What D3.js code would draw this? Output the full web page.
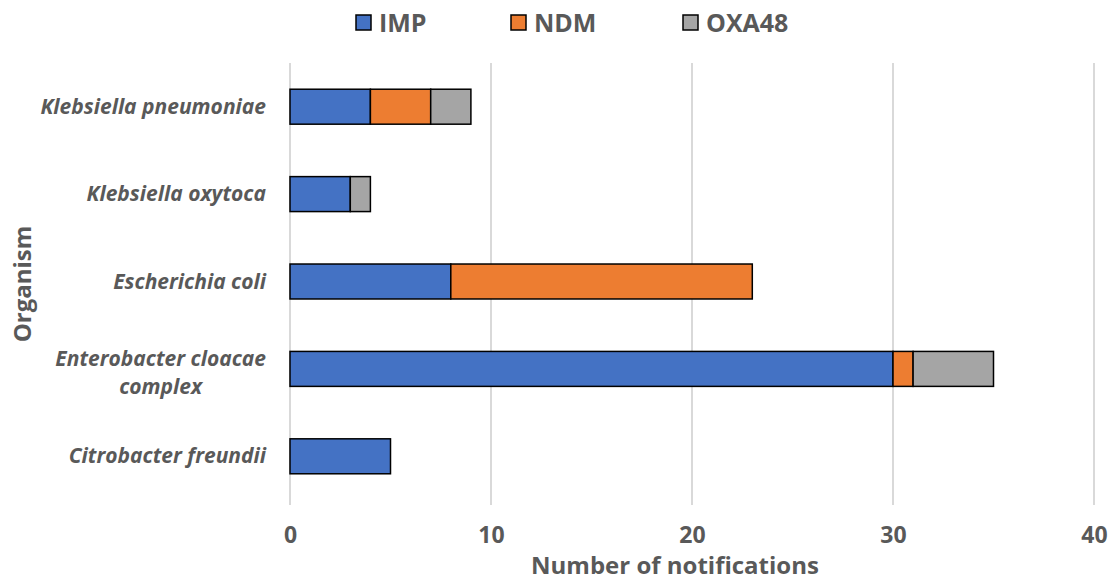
<!DOCTYPE html>
<html>
<head>
<meta charset="utf-8">
<script src="https://cdn.jsdelivr.net/npm/d3@7"></script>
<style>
  body { margin: 0; background: #fff; }
  text { font-family: "Open Sans", sans-serif; font-weight: bold; fill: #595959; }
</style>
</head>
<body>
<div id="chart"></div>
<script>
// data
var organisms = ["Klebsiella pneumoniae", "Klebsiella oxytoca", "Escherichia coli", "Enterobacter cloacae complex", "Citrobacter freundii"];
var impValues = [4, 3, 8, 30, 5];
var ndmValues = [3, 0, 15, 1, 0];
var oxaValues = [2, 1, 0, 4, 0];
var seriesNames = ["IMP", "NDM", "OXA48"];
var seriesColors = ["#4472c4", "#ed7d31", "#a5a5a5"];
var xTicks = [0, 10, 20, 30, 40];

var svgWidth = 1112, svgHeight = 582;
var margin = {top: 63, right: 18, bottom: 82, left: 290};
var width = svgWidth - margin.left - margin.right;
var height = svgHeight - margin.top - margin.bottom;

var svg = d3.select("#chart").append("svg")
  .attr("width", svgWidth)
  .attr("height", svgHeight);

var chartGroup = svg.append("g")
  .attr("transform", `translate(${margin.left}, ${margin.top})`);

var rows = organisms.map(function(name, i) {
  return {organism: name, IMP: impValues[i], NDM: ndmValues[i], OXA48: oxaValues[i]};
});

var stacked = d3.stack().keys(seriesNames)(rows);

var xScale = d3.scaleLinear().domain([0, 40]).range([0, 804]);
var yScale = d3.scaleBand().domain(organisms).range([0, 437]).paddingInner(0.6).paddingOuter(0.3);

// gridlines
chartGroup.append("g")
  .selectAll("line")
  .data(xTicks)
  .enter().append("line")
  .attr("x1", d => xScale(d)).attr("x2", d => xScale(d))
  .attr("y1", 0).attr("y2", 442)
  .attr("stroke", "#d9d9d9")
  .attr("stroke-width", 2);

// x axis labels
var bottomAxis = d3.axisBottom(xScale).tickValues(xTicks).tickSize(0).tickPadding(27);
var xAxisG = chartGroup.append("g")
  .attr("transform", `translate(0, ${height})`)
  .call(bottomAxis);
xAxisG.select(".domain").remove();
xAxisG.selectAll("text").style("font-size", "23px").attr("fill", "#595959")
  .style("font-family", "'Open Sans', sans-serif").style("font-weight", "bold");

// bars
chartGroup.selectAll("g.series")
  .data(stacked)
  .enter().append("g")
  .attr("class", "series")
  .attr("fill", (d, i) => seriesColors[i])
  .selectAll("rect")
  .data(d => d.filter(s => s[1] > s[0]))
  .enter().append("rect")
  .attr("x", d => xScale(d[0]))
  .attr("width", d => xScale(d[1]) - xScale(d[0]))
  .attr("y", d => yScale(d.data.organism))
  .attr("height", yScale.bandwidth())
  .attr("stroke", "#000")
  .attr("stroke-width", 1.5);

// category labels
var labelG = chartGroup.append("g");
organisms.forEach(function(name) {
  var cy = yScale(name) + yScale.bandwidth() / 2;
  var t = labelG.append("text")
    .attr("x", -24)
    .attr("text-anchor", "end")
    .style("font-size", "21px")
    .style("font-style", "italic");
  if (name === "Enterobacter cloacae complex") {
    var first = t.append("tspan").attr("x", -24).attr("y", cy - 3).text("Enterobacter cloacae");
    var w = first.node().getComputedTextLength();
    t.append("tspan").attr("x", -24 - w / 2).attr("y", cy + 25).attr("text-anchor", "middle").text("complex");
  } else {
    t.attr("y", cy + 7).text(name);
  }
});

// axis titles
svg.append("text")
  .attr("x", 675)
  .attr("y", 574)
  .attr("text-anchor", "middle")
  .style("font-size", "24px")
  .text("Number of notifications");

svg.append("text")
  .attr("transform", "rotate(-90)")
  .attr("x", -284)
  .attr("y", 31)
  .attr("text-anchor", "middle")
  .style("font-size", "24px")
  .text("Organism");

// legend
var legendX = [356, 511, 683];
var legend = svg.append("g");
seriesNames.forEach(function(name, i) {
  legend.append("rect")
    .attr("x", legendX[i]).attr("y", 15)
    .attr("width", 15).attr("height", 15)
    .attr("fill", seriesColors[i])
    .attr("stroke", "#000").attr("stroke-width", 1.5);
  legend.append("text")
    .attr("x", legendX[i] + 23).attr("y", 32)
    .style("font-size", "25px")
    .text(name);
});
</script>
</body>
</html>
